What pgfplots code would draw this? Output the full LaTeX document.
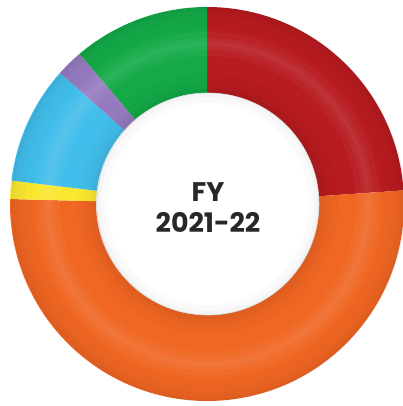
\documentclass[border=0pt]{standalone}
\usepackage{pgfplots}
\pgfplotsset{compat=1.18}
\usepackage{pgfplotstable}
\usepackage{fontspec}
\setmainfont{Poppins}

\definecolor{cRed}{RGB}{184,27,32}
\definecolor{cOrange}{RGB}{240,102,35}
\definecolor{cYellow}{RGB}{250,232,48}
\definecolor{cBlue}{RGB}{66,190,236}
\definecolor{cPurple}{RGB}{150,122,192}
\definecolor{cGreen}{RGB}{20,170,72}
\definecolor{cText}{RGB}{40,40,42}

% share of each segment (percent), clockwise from 12 o'clock
\pgfplotstableread{
share
23.9
51.5
1.5
9.7
2.2
11.2
}\donut

\begin{document}
\begin{tikzpicture}
\pgfplotstablegetelem{0}{share}\of\donut \let\vA\pgfplotsretval
\pgfplotstablegetelem{1}{share}\of\donut \let\vB\pgfplotsretval
\pgfplotstablegetelem{2}{share}\of\donut \let\vC\pgfplotsretval
\pgfplotstablegetelem{3}{share}\of\donut \let\vD\pgfplotsretval
\pgfplotstablegetelem{4}{share}\of\donut \let\vE\pgfplotsretval
\pgfplotstablegetelem{5}{share}\of\donut \let\vF\pgfplotsretval
\pgfmathsetmacro\tA{90}
\pgfmathsetmacro\tB{\tA-3.6*\vA}
\pgfmathsetmacro\tC{\tB-3.6*\vB}
\pgfmathsetmacro\tD{\tC-3.6*\vC}
\pgfmathsetmacro\tE{\tD-3.6*\vD}
\pgfmathsetmacro\tF{\tE-3.6*\vE}
\pgfmathsetmacro\tG{\tF-3.6*\vF}
\def\Ro{197}
\def\Ri{111}
\newcommand\seg[3]{%
  \fill[#1] (axis cs:{\Ro*cos(#2)},{\Ro*sin(#2)}) arc[start angle=#2, end angle=#3, radius=\Ro bp]
    -- (axis cs:{\Ri*cos(#3)},{\Ri*sin(#3)}) arc[start angle=#3, end angle=#2, radius=\Ri bp] -- cycle;}
\newcommand\ring[4]{%
  \fill[#1, opacity=#2, even odd rule] (axis cs:1,0) circle[radius=#3 bp] (axis cs:1,0) circle[radius=#4 bp];}
\begin{axis}[
  x=1bp, y=1bp,
  xmin=-207, xmax=196, ymin=-202, ymax=204,
  hide axis,
]
\seg{cRed}{\tA}{\tB}
\seg{cOrange}{\tB}{\tC}
\seg{cYellow}{\tC}{\tD}
\seg{cBlue}{\tD}{\tE}
\seg{cPurple}{\tE}{\tF}
\seg{cGreen}{\tF}{\tG}
% tube shading
\ring{black}{0.08}{197}{194}
\ring{black}{0.05}{194}{189}
\ring{black}{0.03}{189}{183}
\ring{black}{0.015}{183}{176}
\ring{white}{0.04}{172}{148}
\ring{white}{0.04}{166}{154}
\ring{white}{0.03}{162}{158}
\ring{black}{0.015}{130}{124}
\ring{black}{0.03}{124}{119}
\ring{black}{0.05}{119}{115}
\ring{black}{0.08}{115}{111}
% centre hole
\fill[white] (axis cs:1,0) circle[radius=\Ri bp];
\ring{black}{0.04}{111}{107}
\ring{black}{0.02}{107}{101}
\draw[black!15, line width=0.6bp] (axis cs:1,0) circle[radius=\Ri bp];
\node[font=\bfseries\fontsize{27}{31}\selectfont, text=cText, align=center]
  at (axis cs:1,-3.5) {FY\\2021-22};
\end{axis}
\pgfresetboundingbox
\path[use as bounding box] (current axis.south west) rectangle (current axis.north east);
\end{tikzpicture}
\end{document}
